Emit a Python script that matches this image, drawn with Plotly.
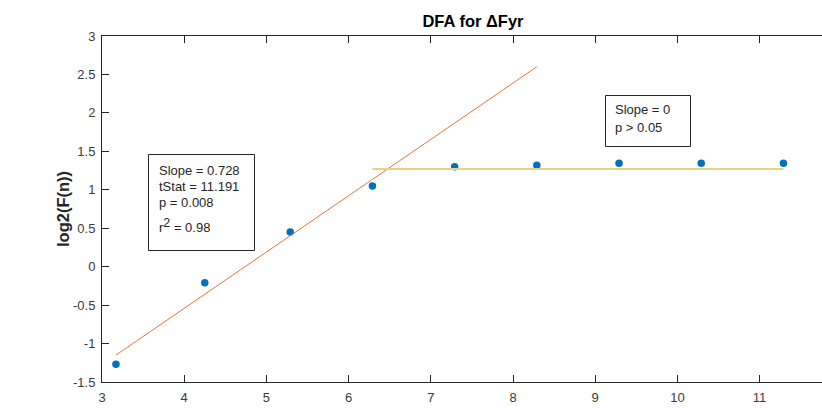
import plotly.graph_objects as go

# ---- data ----
log_n = [3.17, 4.25, 5.29, 6.29, 7.29, 8.29, 9.29, 10.29, 11.29]
log_F = [-1.27, -0.21, 0.45, 1.05, 1.30, 1.32, 1.345, 1.345, 1.345]

fit1_x = [3.17, 8.29]
fit1_y = [-1.15, 2.60]
fit2_x = [6.29, 11.29]
fit2_y = [1.27, 1.27]

x_ticks = [3, 4, 5, 6, 7, 8, 9, 10, 11]
y_ticks = [-1.5, -1, -0.5, 0, 0.5, 1, 1.5, 2, 2.5, 3]
y_tick_text = ["-1.5", "-1", "-0.5", "0", "0.5", "1", "1.5", "2", "2.5", "3"]

box1_lines = ["Slope = 0.728", "tStat = 11.191", "p = 0.008",
              "r<sup><span style='font-size:12.5px'>2</span></sup> = 0.98"]
box2_lines = ["Slope = 0", "p > 0.05"]

title_text = "DFA for ΔFyr"
ylabel_text = "log2(F(n))"

# ---- layout geometry (pixels) ----
W, H = 822, 408
L, R, T, B = 102, 0, 36, 26
PW, PH = W - L - R, H - T - B

def px(x):
    return (x - L) / PW

def py(y):
    return (H - B - y) / PH

FONT = "Liberation Sans, Arial, Helvetica, sans-serif"
AX = "#262626"
TICK = "#3a3a3a"

fig = go.Figure()
fig.add_trace(go.Scatter(x=log_n, y=log_F, mode="markers",
                         marker=dict(color="#0072BD", size=7.5), hoverinfo="skip"))
fig.add_trace(go.Scatter(x=fit1_x, y=fit1_y, mode="lines",
                         line=dict(color="#E5743F", width=1), hoverinfo="skip"))
fig.add_trace(go.Scatter(x=fit2_x, y=fit2_y, mode="lines",
                         line=dict(color="#F0CF7F", width=1.8), hoverinfo="skip"))

x_max = 3 + PW / 82.2
fig.update_xaxes(range=[3, x_max], tickvals=x_ticks, ticks="inside", ticklen=7,
                 tickcolor=AX, showline=True, linecolor=AX, linewidth=1, mirror="ticks",
                 showgrid=False, zeroline=False, ticklabelstandoff=3,
                 tickfont=dict(family=FONT, size=13, color=TICK))
fig.update_yaxes(range=[-1.5, 3], tickvals=y_ticks, ticktext=y_tick_text, ticks="inside",
                 ticklen=7, tickcolor=AX, showline=True, linecolor=AX, linewidth=1,
                 showgrid=False, zeroline=False, ticklabelstandoff=3,
                 tickfont=dict(family=FONT, size=13, color=TICK))

shapes = []
shapes.append(dict(type="rect", xref="paper", yref="paper", x0=px(148.5), x1=px(254.5),
                   y0=py(250.5), y1=py(154.5), line=dict(color=AX, width=1), fillcolor="white",
                   layer="above"))
shapes.append(dict(type="rect", xref="paper", yref="paper", x0=px(605.5), x1=px(690.5),
                   y0=py(146.5), y1=py(95.5), line=dict(color=AX, width=1), fillcolor="white",
                   layer="above"))

annotations = []
for txt, yy in zip(box1_lines, [170, 186.5, 203, 225]):
    annotations.append(dict(text=txt, xref="paper", yref="paper", x=px(156.5), y=py(yy),
                            xanchor="left", yanchor="middle", showarrow=False,
                            font=dict(family=FONT, size=13, color=AX)))
for txt, yy in zip(box2_lines, [109.5, 127.5]):
    annotations.append(dict(text=txt, xref="paper", yref="paper", x=px(612.5), y=py(yy),
                            xanchor="left", yanchor="middle", showarrow=False,
                            font=dict(family=FONT, size=13, color=AX)))
annotations.append(dict(text="<b>" + ylabel_text + "</b>", xref="paper", yref="paper",
                        x=px(63), y=0.5, xanchor="center", yanchor="middle", textangle=-90,
                        showarrow=False, font=dict(family=FONT, size=16.5, color=AX)))

fig.update_layout(
    width=W, height=H, margin=dict(l=L, r=R, t=T, b=B),
    paper_bgcolor="white", plot_bgcolor="white", showlegend=False,
    title=dict(text="<b>" + title_text + "</b>", xref="paper", x=px(473), xanchor="center",
               yref="container", y=1 - 21 / H, yanchor="middle",
               font=dict(family=FONT, size=16.5, color="black")),
    shapes=shapes, annotations=annotations,
)

fig.write_html("out.html", config={"displayModeBar": False})
